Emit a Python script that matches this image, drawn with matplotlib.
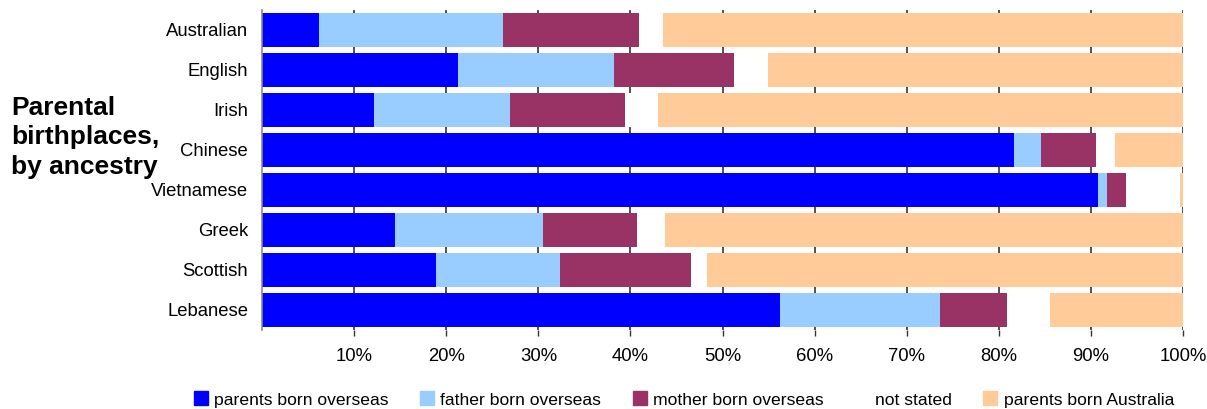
import numpy as np
import matplotlib.pyplot as plt
from matplotlib.lines import Line2D

plt.rcParams['font.family'] = ['Liberation Sans', 'DejaVu Sans']

# Data (percent of each ancestry group)
ancestries = ['Australian', 'English', 'Irish', 'Chinese', 'Vietnamese',
              'Greek', 'Scottish', 'Lebanese']
both_overseas = [6.2, 21.3, 12.2, 81.7, 90.8, 14.4, 18.9, 56.2]
father_overseas = [20.0, 16.9, 14.7, 2.9, 0.9, 16.1, 13.5, 17.4]
mother_overseas = [14.7, 13.0, 12.5, 6.0, 2.1, 10.2, 14.2, 7.3]
not_stated = [2.6, 3.7, 3.6, 2.0, 5.9, 3.1, 1.7, 4.7]
both_australia = [56.5, 45.1, 57.0, 7.4, 0.3, 56.2, 51.7, 14.4]

series = [
    ('parents born overseas', both_overseas, '#0000FF'),
    ('father born overseas', father_overseas, '#99CCFF'),
    ('mother born overseas', mother_overseas, '#993366'),
    ('not stated', not_stated, '#FFFFFF'),
    ('parents born Australia', both_australia, '#FFCC99'),
]

fig = plt.figure(figsize=(12.07, 4.09), dpi=100)
ax = fig.add_axes([262 / 1207, 1 - 330 / 409, 921 / 1207, 320 / 409])

y = np.arange(len(ancestries))
left = np.zeros(len(ancestries))
for name, vals, col in series:
    vals = np.array(vals)
    ax.barh(y, vals, left=left, height=0.85, color=col, label=name, zorder=2)
    left += vals

ax.set_xlim(0, 100)
ax.set_ylim(len(ancestries) - 0.5, -0.5)
ax.set_yticks(y)
ax.set_yticklabels(ancestries, fontsize=13.3)
ax.tick_params(axis='y', length=0, pad=10)

ticks = np.arange(10, 101, 10)
ax.set_xticks(ticks)
ax.set_xticklabels([f'{t}%' for t in ticks], fontsize=13.3)
ax.tick_params(axis='x', length=4, width=1, color='#333333', pad=9)

ax.set_axisbelow(True)
ax.grid(axis='x', color='#333333', linewidth=1.2, zorder=0)

for s in ['top', 'right', 'bottom']:
    ax.spines[s].set_visible(False)
ax.spines['left'].set_color('#888888')
ax.spines['left'].set_linewidth(1.2)

fig.text(11 / 1207, 1 - 174 / 409, 'Parental\nbirthplaces,\nby ancestry',
         fontsize=19, fontweight='bold', va='baseline', ha='left',
         linespacing=1.3)

handles = [Line2D([], [], marker='s', linestyle='none', markersize=10,
                  markerfacecolor=col, markeredgecolor=col)
           for _, _, col in series]
labels = [name for name, _, _ in series]
fig.legend(handles, labels, loc='lower center', ncol=5, frameon=False,
           bbox_to_anchor=(0.566, -0.035), fontsize=12.6, handletextpad=0.25,
           columnspacing=1.7, handlelength=1.0)

fig.savefig('out.png', dpi=100)
